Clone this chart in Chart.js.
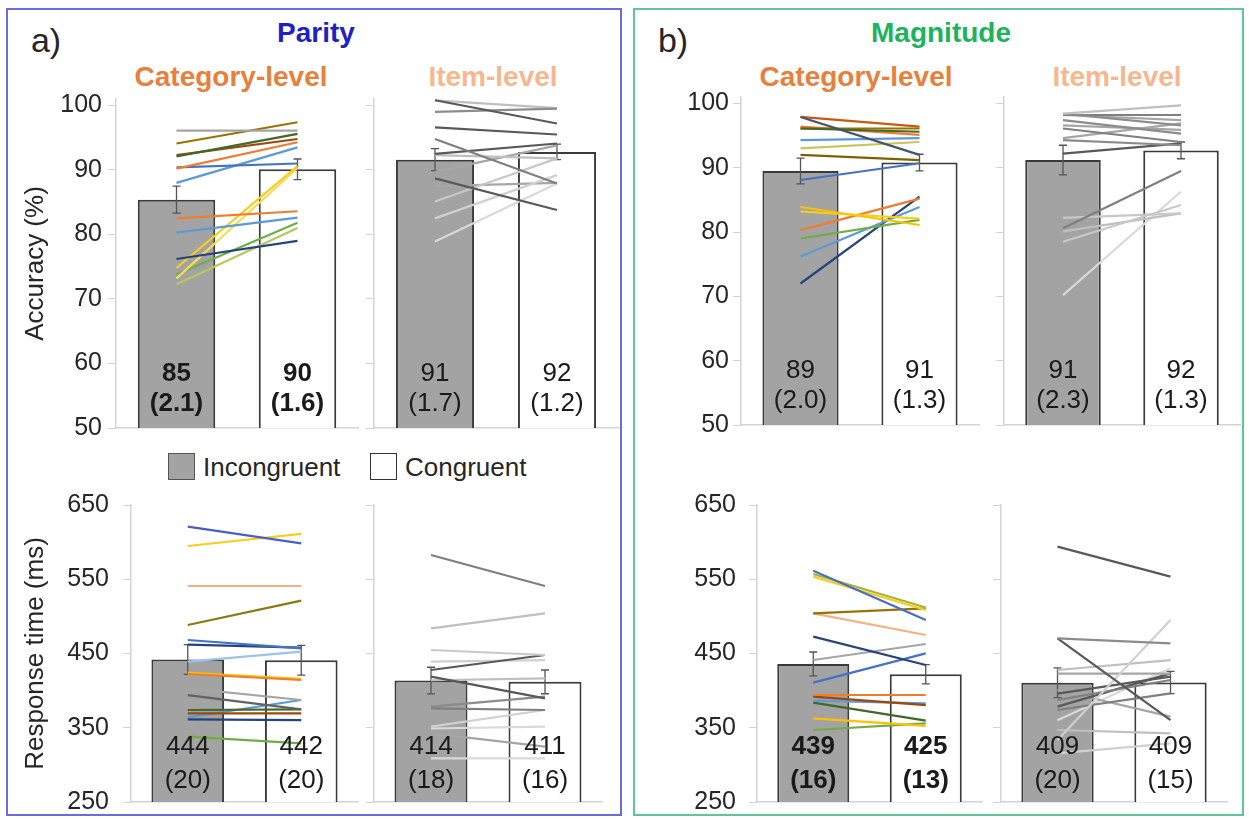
<!DOCTYPE html>
<html>
<head>
<meta charset="utf-8">
<script src="https://cdn.jsdelivr.net/npm/chart.js@4.4.1/dist/chart.umd.min.js"></script>
<style>
body { margin: 0; background: #fff; font-family: "Liberation Sans", Arial, sans-serif; }
#fig { position: relative; width: 1249px; height: 820px; overflow: hidden; background: #fff; }
#fig canvas { position: absolute; }
.frame { position: absolute; box-sizing: border-box; border: 2px solid; }
.t { position: absolute; white-space: nowrap; transform: translate(-50%, -50%); line-height: 1; }
.h { font-weight: bold; font-size: 28px; }
.sq { position: absolute; width: 27px; height: 27px; box-sizing: border-box; border: 1.5px solid #555; }
.lg { position: absolute; font-size: 26px; color: #262626; line-height: 1; transform: translateY(-50%); }
</style>
</head>
<body>
<div id="fig">
  <div class="frame" style="left:6px;top:8px;width:616px;height:808px;border-color:#6b6be0"></div>
  <div class="frame" style="left:633px;top:8px;width:611px;height:808px;border-color:#5cc896"></div>

  <div class="t" style="left:46px;top:40px;font-size:34px;color:#262626">a)</div>
  <div class="t h" style="left:316px;top:33px;color:#1f1fc4">Parity</div>
  <div class="t h" style="left:231px;top:77px;color:#e8803d">Category-level</div>
  <div class="t h" style="left:493px;top:77px;color:#f6b78e">Item-level</div>

  <div class="t" style="left:673px;top:40px;font-size:34px;color:#262626">b)</div>
  <div class="t h" style="left:941px;top:33px;color:#1db35b">Magnitude</div>
  <div class="t h" style="left:856px;top:77px;color:#e8803d">Category-level</div>
  <div class="t h" style="left:1117px;top:77px;color:#f6b78e">Item-level</div>

  <div class="sq" style="left:168px;top:453px;background:#a3a3a3"></div>
  <div class="lg" style="left:203px;top:467px">Incongruent</div>
  <div class="sq" style="left:370px;top:453px;background:#fff;border-color:#333"></div>
  <div class="lg" style="left:405px;top:467px">Congruent</div>
</div>
<script>
var conditions = ["Incongruent", "Congruent"];
var accTicks = [50, 60, 70, 80, 90, 100];
var rtTicks = [250, 350, 450, 550, 650];

// Parity - accuracy (%)
var parAccCatMean = [85.4, 90.1];
var parAccCatSE = [2.1, 1.6];
var parAccCatText = ["85", "90"];
var parAccItemMean = [91.6, 92.8];
var parAccItemSE = [1.7, 1.2];
var parAccItemText = ["91", "92"];

// Parity - response time (ms)
var parRtCatMean = [442, 441];
var parRtCatSE = [20, 20];
var parRtCatText = ["444", "442"];
var parRtItemMean = [413.5, 411.8];
var parRtItemSE = [18, 16];
var parRtItemText = ["414", "411"];

// Magnitude - accuracy (%)
var magAccCatMean = [89.5, 90.8];
var magAccCatSE = [2.0, 1.3];
var magAccCatText = ["89", "91"];
var magAccItemMean = [91.2, 92.7];
var magAccItemSE = [2.3, 1.3];
var magAccItemText = ["91", "92"];

// Magnitude - response time (ms)
var magRtCatMean = [436, 422];
var magRtCatSE = [16, 13];
var magRtCatText = ["439", "425"];
var magRtItemMean = [410.7, 411];
var magRtItemSE = [20, 15];
var magRtItemText = ["409", "409"];

// single subjects [incongruent, congruent]
var parAccCatSubj = [[96.1, 96.1], [94.1, 97.4], [92.1, 95.6], [92.3, 94.8], [90.2, 94.3], [90.4, 91.0], [88.0, 93.5],
  [82.5, 83.6], [80.3, 82.6], [76.2, 79.0], [74.8, 90.6], [73.2, 90.3], [73.8, 81.8], [72.3, 81.0]];
var parAccItemSubj = [[100.8, 97.2], [99.0, 99.5], [100.8, 99.6], [96.6, 95.5], [94.8, 87.9], [92.5, 94.1], [92.3, 91.8],
  [88.7, 83.8], [85.1, 91.8], [82.5, 89.2], [78.9, 87.9], [89.7, 93.8], [87.5, 88.0]];
var parRtCatSubj = [[620.8, 598.4], [594.8, 611], [540.9, 540.9], [488.4, 521.2], [468.2, 457], [462, 458], [439, 452.5],
  [422.4, 414.3], [424, 416], [403, 387.4], [394, 374.8], [373.9, 374.8], [369.4, 369.4], [361.3, 360.4], [364, 387.4], [338, 329]];
var parRtItemSubj = [[582.7, 540.9], [483.9, 504.1], [454.7, 448], [427.8, 448], [439, 441], [418.8, 389.6], [376.1, 373.9],
  [378.4, 391.9], [351.5, 373.9], [342.5, 324.5], [308.8, 308.8], [349, 351.5], [414, 416.6]];
var magAccCatSubj = [[97.9, 92.0], [97.9, 96.4], [96.1, 95.6], [96.1, 96.1], [96.4, 95.1], [94.3, 94.6], [93.0, 94.0],
  [92.0, 91.2], [88.1, 90.7], [83.9, 81.1], [83.2, 82.1], [80.3, 85.2], [79.0, 81.9], [76.2, 83.9], [72.0, 85.5]];
var magAccItemSubj = [[98.4, 99.7], [98.4, 96.6], [98.2, 98.2], [98.2, 97.4], [97.4, 95.3], [96.6, 95.9], [96.1, 94.0],
  [94.6, 96.9], [94.3, 93.5], [92.2, 93.8], [80.6, 89.5], [82.2, 82.9], [78.5, 84.2], [80.1, 82.9], [70.2, 86.3]];
var magRtCatSubj = [[561.6, 495.1], [553.5, 508.6], [557, 512], [504, 510.8], [504, 474.9], [472.7, 434.5], [441.2, 462.8],
  [410.7, 450.2], [394.1, 394.1], [391.9, 380.6], [386.5, 382.9], [383.8, 359.5], [362.7, 352.4], [347, 356]];
var magRtItemSubj = [[593.9, 553.5], [470.4, 463.7], [470.4, 360.4], [333.5, 495], [427.8, 441.2], [423, 423], [396, 418.8],
  [387.4, 414.3], [378.4, 423.3], [373.9, 396.4], [347, 342.5], [315.5, 329], [400.8, 365], [360, 430]];

// line colours
var parAccCatCols = ["#a5a5a5", "#997300", "#43682b", "#9e480e", "#ed7d31", "#4472c4", "#5b9bd5",
  "#ed7d31", "#5b9bd5", "#264478", "#f5cf1f", "#f7dc5a", "#70ad47", "#b5c95a"];
var parAccItemCols = ["#595959", "#8c8c8c", "#bfbfbf", "#595959", "#7f7f7f", "#595959", "#bfbfbf",
  "#595959", "#c8c8c8", "#d0d0d0", "#d9d9d9", "#a6a6a6", "#a6a6a6"];
var parRtCatCols = ["#4a5fc1", "#f5cf1f", "#f4b183", "#8a7a10", "#4472c4", "#264478", "#9dc3e6",
  "#ed7d31", "#ffc000", "#a5a5a5", "#636363", "#43682b", "#9e480e", "#264478", "#5b9bd5", "#70ad47"];
var parRtItemCols = ["#7f7f7f", "#bfbfbf", "#c8c8c8", "#595959", "#d0d0d0", "#595959", "#7f7f7f",
  "#8c8c8c", "#d0d0d0", "#a6a6a6", "#d9d9d9", "#d9d9d9", "#bfbfbf"];
var magAccCatCols = ["#44546a", "#c55a11", "#43682b", "#997300", "#ed7d31", "#5b9bd5", "#c9c55a",
  "#7f6000", "#4472c4", "#ffc000", "#f5cf1f", "#ed7d31", "#70ad47", "#5b9bd5", "#264478"];
var magAccItemCols = ["#bfbfbf", "#8c8c8c", "#7f7f7f", "#a6a6a6", "#8c8c8c", "#a6a6a6", "#7f7f7f",
  "#a6a6a6", "#8c8c8c", "#595959", "#7f7f7f", "#c8c8c8", "#c8c8c8", "#bfbfbf", "#d9d9d9"];
var magRtCatCols = ["#4472c4", "#f5cf1f", "#a9b23a", "#997300", "#f4b183", "#264478", "#a5a5a5",
  "#4472c4", "#ed7d31", "#9e480e", "#5b9bd5", "#43682b", "#ffc000", "#70ad47"];
var magRtItemCols = ["#595959", "#8c8c8c", "#595959", "#d0d0d0", "#bfbfbf", "#a6a6a6", "#595959",
  "#7f7f7f", "#595959", "#7f7f7f", "#bfbfbf", "#d0d0d0", "#a6a6a6", "#d9d9d9"];

Chart.defaults.font.family = '"Liberation Sans", Arial, sans-serif';
Chart.defaults.color = "#262626";

var fig = document.getElementById("fig");
var axisGray = "#d4d4d4";
var accAxis = { min: 50, max: 101, ticks: accTicks, seDigits: 1, off: [54, 24], title: "Accuracy (%)" };
var rtAxis = { min: 250, max: 650, ticks: rtTicks, seDigits: 0, off: [55, 21], title: "Response time (ms)" };

function drawSubplot(p) {
  var ax = p.axis;
  var L = p.area[0] - p.yw, T = p.area[1] - 18, R = p.area[2] + 6, B = p.area[3] + 18;
  var cv = document.createElement("canvas");
  cv.width = R - L;
  cv.height = B - T;
  cv.style.left = L + "px";
  cv.style.top = T + "px";
  fig.appendChild(cv);

  var ds = [{
    type: "bar",
    data: p.mean,
    order: 1,
    backgroundColor: ["#a3a3a3", "#ffffff"],
    borderColor: "#3a3a3a",
    borderWidth: 2,
    borderSkipped: false,
    barPercentage: 0.64,
    categoryPercentage: 1
  }];
  p.subj.forEach(function (s, i) {
    ds.push({ type: "line", data: s, order: 0, borderColor: p.cols[i], borderWidth: 2.2, pointRadius: 0, clip: false });
  });

  var extras = {
    id: "extras",
    afterDatasetDraw: function (chart, args) {
      if (args.index !== 0) return;
      var ctx = chart.ctx, y = chart.scales.y, x = chart.scales.x;
      ctx.save();
      ctx.strokeStyle = "#555";
      ctx.lineWidth = 1.3;
      p.mean.forEach(function (m, i) {
        var px = x.getPixelForValue(i);
        var y1 = y.getPixelForValue(m + p.se[i]), y2 = y.getPixelForValue(m - p.se[i]);
        ctx.beginPath();
        ctx.moveTo(px, y1); ctx.lineTo(px, y2);
        ctx.moveTo(px - 4, y1); ctx.lineTo(px + 4, y1);
        ctx.moveTo(px - 4, y2); ctx.lineTo(px + 4, y2);
        ctx.stroke();
      });
      ctx.restore();
    },
    afterDatasetsDraw: function (chart) {
      var ctx = chart.ctx, x = chart.scales.x, bottom = chart.chartArea.bottom;
      ctx.save();
      ctx.fillStyle = "#1a1a1a";
      ctx.textAlign = "center";
      ctx.textBaseline = "middle";
      ctx.font = (p.bold ? "bold " : "") + '26px "Liberation Sans", Arial, sans-serif';
      p.text.forEach(function (t, i) {
        var px = x.getPixelForValue(i);
        ctx.fillText(t, px, bottom - ax.off[0]);
        ctx.fillText("(" + p.se[i].toFixed(ax.seDigits) + ")", px, bottom - ax.off[1]);
      });
      ctx.restore();
    }
  };

  new Chart(cv, {
    type: "bar",
    data: { labels: conditions, datasets: ds },
    options: {
      responsive: false,
      animation: false,
      events: [],
      layout: { padding: { left: 0, top: p.area[1] - T, right: R - p.area[2], bottom: B - p.area[3] } },
      plugins: { legend: { display: false }, tooltip: { enabled: false } },
      scales: {
        x: {
          ticks: { display: false },
          grid: { display: false, drawTicks: false },
          border: { color: axisGray, width: 1.5 },
          afterFit: function (s) { s.height = 0; s.paddingLeft = 0; s.paddingRight = 0; }
        },
        y: {
          min: ax.min,
          max: ax.max,
          afterBuildTicks: function (s) { s.ticks = ax.ticks.map(function (v) { return { value: v }; }); },
          afterFit: function (s) { s.width = p.yw; s.paddingTop = 0; s.paddingBottom = 0; },
          ticks: { display: p.labels, padding: p.pad, font: { size: 25 }, color: "#262626" },
          grid: { drawOnChartArea: false, tickLength: 8, color: axisGray },
          border: { color: axisGray, width: 1.5 },
          title: { display: !!p.title, text: ax.title, font: { size: 26 }, color: "#262626", padding: { top: 10, bottom: 0 } }
        }
      }
    },
    plugins: [extras]
  });
}

// panel a: parity
drawSubplot({ area: [116, 98.5, 358, 428], yw: 106, axis: accAxis, labels: true, pad: 6, title: true, bold: true,
  mean: parAccCatMean, se: parAccCatSE, text: parAccCatText, subj: parAccCatSubj, cols: parAccCatCols });
drawSubplot({ area: [374, 98.5, 618, 428], yw: 12, axis: accAxis, labels: false, pad: 6,
  mean: parAccItemMean, se: parAccItemSE, text: parAccItemText, subj: parAccItemSubj, cols: parAccItemCols });
drawSubplot({ area: [131, 505, 358, 802], yw: 121, axis: rtAxis, labels: true, pad: 14, title: true,
  mean: parRtCatMean, se: parRtCatSE, text: parRtCatText, subj: parRtCatSubj, cols: parRtCatCols });
drawSubplot({ area: [374, 505, 602, 802], yw: 12, axis: rtAxis, labels: false, pad: 6,
  mean: parRtItemMean, se: parRtItemSE, text: parRtItemText, subj: parRtItemSubj, cols: parRtItemCols });

// panel b: magnitude
drawSubplot({ area: [741, 97, 979, 425], yw: 71, axis: accAxis, labels: true, pad: 4,
  mean: magAccCatMean, se: magAccCatSE, text: magAccCatText, subj: magAccCatSubj, cols: magAccCatCols });
drawSubplot({ area: [1004, 97, 1240, 425], yw: 12, axis: accAxis, labels: false, pad: 6,
  mean: magAccItemMean, se: magAccItemSE, text: magAccItemText, subj: magAccItemSubj, cols: magAccItemCols });
drawSubplot({ area: [757, 505, 982, 802], yw: 87, axis: rtAxis, labels: true, pad: 13, bold: true,
  mean: magRtCatMean, se: magRtCatSE, text: magRtCatText, subj: magRtCatSubj, cols: magRtCatCols });
drawSubplot({ area: [1001, 505, 1227, 802], yw: 12, axis: rtAxis, labels: false, pad: 6,
  mean: magRtItemMean, se: magRtItemSE, text: magRtItemText, subj: magRtItemSubj, cols: magRtItemCols });
</script>
</body>
</html>
